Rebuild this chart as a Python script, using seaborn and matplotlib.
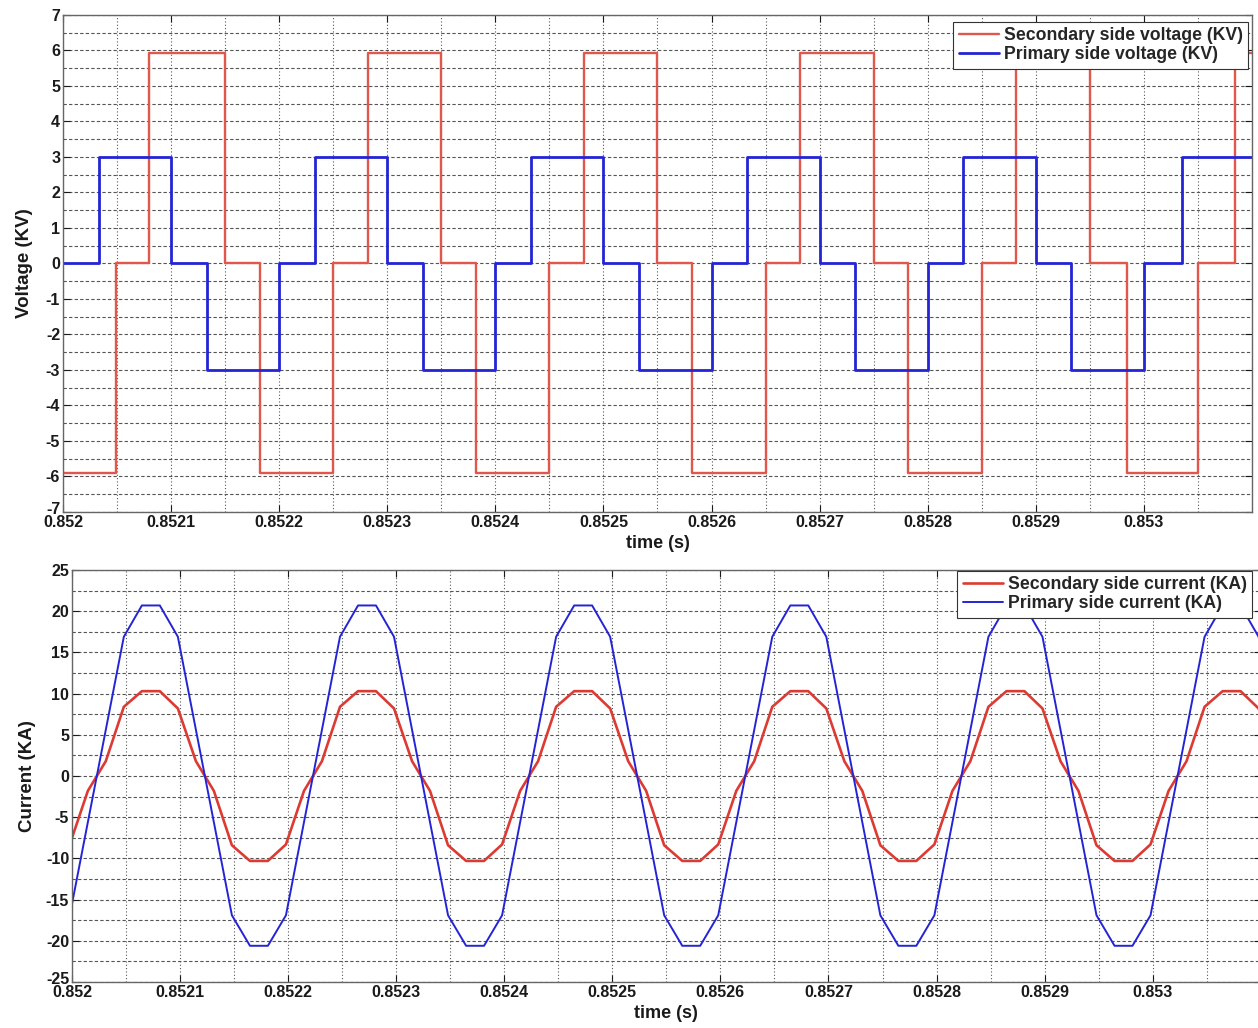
import numpy as np
import pandas as pd
import matplotlib
matplotlib.use("Agg")
import matplotlib.pyplot as plt
import matplotlib.transforms as mtransforms
import seaborn as sns
from matplotlib.ticker import FixedLocator, MultipleLocator

sns.set_style("ticks")
plt.rcParams['font.family'] = ['Liberation Sans', 'DejaVu Sans']
plt.rcParams['font.weight'] = 'bold'

# ---------------- data ----------------
# Voltage (step waveforms): transition times [s] and levels [KV]
sec_v_time = [0.852, 0.852049, 0.852080, 0.852150, 0.852182, 0.852250, 0.852282,
              0.852350, 0.852382, 0.852450, 0.852482, 0.852550, 0.852582, 0.852650,
              0.852682, 0.852750, 0.852782, 0.852850, 0.852882, 0.852950, 0.852984,
              0.853050, 0.853084, 0.853110]
sec_v_val = [-5.9, 0, 5.92, 0, -5.9, 0, 5.92, 0, -5.9, 0, 5.92, 0, -5.9, 0, 5.92, 0,
             -5.9, 0, 5.92, 0, -5.9, 0, 5.92, 5.92]

pri_v_time = [0.852, 0.852033, 0.852100, 0.852133, 0.852200, 0.852233, 0.852300,
              0.852333, 0.852400, 0.852433, 0.852500, 0.852533, 0.852600, 0.852633,
              0.852700, 0.852733, 0.852800, 0.852833, 0.852900, 0.852933, 0.853000,
              0.853035, 0.853110]
pri_v_val = [0, 3.0, 0, -3.0, 0, 3.0, 0, -3.0, 0, 3.0, 0, -3.0, 0, 3.0, 0, -3.0,
             0, 3.0, 0, -3.0, 0, 3.0, 3.0]

# Currents: sample times (microseconds after 0.852 s) and values [KA]
cur_time_us = [-2.0, 14.7, 31.3, 48.0, 64.7, 81.3, 98.0, 114.7, 131.3, 148.0, 164.7, 181.3,
               198.0, 214.7, 231.3, 248.0, 264.7, 281.3, 298.0, 314.7, 331.3, 348.0, 364.7, 381.3,
               398.0, 414.7, 431.3, 448.0, 464.7, 481.3, 498.0, 514.7, 531.3, 548.0, 564.7, 581.3,
               598.0, 614.7, 631.3, 648.0, 664.7, 681.3, 698.0, 714.7, 731.3, 748.0, 764.7, 781.3,
               798.0, 814.7, 831.3, 848.0, 864.7, 881.3, 898.0, 914.7, 931.3, 948.0, 964.7, 981.3,
               998.0, 1014.7, 1031.3, 1048.0, 1064.7, 1081.3, 1098.0, 1114.7]
sec_i_val = [-8.3, -1.8, 1.8, 8.4, 10.3, 10.3, 8.2, 1.8, -1.8, -8.4, -10.3, -10.3,
             -8.3, -1.8, 1.8, 8.4, 10.3, 10.3, 8.2, 1.8, -1.8, -8.4, -10.3, -10.3,
             -8.3, -1.8, 1.8, 8.4, 10.3, 10.3, 8.2, 1.8, -1.8, -8.4, -10.3, -10.3,
             -8.3, -1.8, 1.8, 8.4, 10.3, 10.3, 8.2, 1.8, -1.8, -8.4, -10.3, -10.3,
             -8.3, -1.8, 1.8, 8.4, 10.3, 10.3, 8.2, 1.8, -1.8, -8.4, -10.3, -10.3,
             -8.3, -1.8, 1.8, 8.4, 10.3, 10.3, 8.2, 1.8]
pri_i_val = [-16.9, -5.6, 5.6, 16.9, 20.7, 20.7, 16.9, 5.6, -5.6, -16.9, -20.6, -20.6,
             -16.9, -5.6, 5.6, 16.9, 20.7, 20.7, 16.9, 5.6, -5.6, -16.9, -20.6, -20.6,
             -16.9, -5.6, 5.6, 16.9, 20.7, 20.7, 16.9, 5.6, -5.6, -16.9, -20.6, -20.6,
             -16.9, -5.6, 5.6, 16.9, 20.7, 20.7, 16.9, 5.6, -5.6, -16.9, -20.6, -20.6,
             -16.9, -5.6, 5.6, 16.9, 20.7, 20.7, 16.9, 5.6, -5.6, -16.9, -20.6, -20.6,
             -16.9, -5.6, 5.6, 16.9, 20.7, 20.7, 16.9, 5.6]

x_ticks = [0.852, 0.8521, 0.8522, 0.8523, 0.8524, 0.8525, 0.8526, 0.8527, 0.8528, 0.8529, 0.853]
x_tick_labels = ['0.852', '0.8521', '0.8522', '0.8523', '0.8524', '0.8525', '0.8526',
                 '0.8527', '0.8528', '0.8529', '0.853']
v_ticks = [7, 6, 5, 4, 3, 2, 1, 0, -1, -2, -3, -4, -5, -6, -7]
i_ticks = [25, 20, 15, 10, 5, 0, -5, -10, -15, -20, -25]

cur_time = [0.852 + t * 1e-6 for t in cur_time_us]

RED_V = '#e2574c'
RED_I = '#dc3b33'
BLUE = '#2424d6'
TXT = '#1a1a1a'

fig = plt.figure(figsize=(12.58, 10.28), dpi=100)
ax1 = fig.add_axes([0.0501, 0.502, 0.9451, 0.4835])
ax2 = fig.add_axes([0.0572, 0.0447, 0.9450, 0.4008])

# --- voltage ---
sns.lineplot(x=sec_v_time, y=sec_v_val, ax=ax1, color=RED_V, lw=1.7, drawstyle='steps-post',
             estimator=None, sort=False, label='Secondary side voltage (KV)')
sns.lineplot(x=pri_v_time, y=pri_v_val, ax=ax1, color=BLUE, lw=2.0, drawstyle='steps-post',
             estimator=None, sort=False, label='Primary side voltage (KV)')
ax1.set_ylim(-7, 7)
ax1.set_yticks(v_ticks)
ax1.set_yticklabels([str(v) for v in v_ticks])
ax1.yaxis.set_minor_locator(MultipleLocator(0.5))
ax1.set_ylabel('Voltage (KV)', fontsize=13.5, fontweight='bold', color=TXT, labelpad=9)

# --- current ---
sns.lineplot(x=cur_time, y=sec_i_val, ax=ax2, color=RED_I, lw=1.9,
             estimator=None, sort=False, label='Secondary side current (KA)')
sns.lineplot(x=cur_time, y=pri_i_val, ax=ax2, color=BLUE, lw=1.4,
             estimator=None, sort=False, label='Primary side current (KA)')
ax2.set_ylim(-25, 25)
ax2.set_yticks(i_ticks)
ax2.set_yticklabels([str(v) for v in i_ticks])
ax2.yaxis.set_minor_locator(MultipleLocator(2.5))
ax2.set_ylabel('Current (KA)', fontsize=13.5, fontweight='bold', color=TXT, labelpad=7)

for ax in (ax1, ax2):
    ax.set_xlim(0.852, 0.85310)
    ax.xaxis.set_major_locator(FixedLocator(x_ticks))
    ax.set_xticklabels(x_tick_labels)
    ax.xaxis.set_minor_locator(MultipleLocator(0.00005))
    ax.set_xlabel('time (s)', fontsize=13, fontweight='bold', color=TXT, labelpad=4)
    ax.tick_params(axis='both', which='major', direction='in', length=5, width=0.8,
                   labelsize=11.5, colors=TXT, pad=2, top=True, right=True)
    ax.tick_params(axis='both', which='minor', length=0)
    for lab in ax.get_xticklabels() + ax.get_yticklabels():
        lab.set_fontweight('bold')
    # lowest y label sits just above the first x label, as in the reference
    low = ax.get_yticklabels()[-1]
    low.set_transform(low.get_transform() + mtransforms.ScaledTranslation(0, 3 / 72, fig.dpi_scale_trans))
    ax.xaxis.grid(True, which='both', color='#555555', ls=(0, (1, 2)), lw=0.8)
    ax.yaxis.grid(True, which='both', color='#555555', ls=(0, (3, 2)), lw=0.8)
    ax.set_axisbelow(True)
    for s in ax.spines.values():
        s.set_color('#666666')
        s.set_linewidth(1.0)

leg_kw = dict(loc='upper right', frameon=True, fancybox=False, edgecolor='#333333',
              framealpha=1, handlelength=2.3, borderaxespad=0.0, borderpad=0.3,
              labelspacing=0.12, handletextpad=0.25,
              prop={'weight': 'bold', 'size': 12.7})
leg1 = ax1.legend(bbox_to_anchor=(0.9966, 0.9859), **leg_kw)
leg2 = ax2.legend(bbox_to_anchor=(0.9926, 0.998), **leg_kw)
for leg in (leg1, leg2):
    leg.get_frame().set_linewidth(0.8)

fig.savefig('out.png', dpi=100, facecolor='white')
